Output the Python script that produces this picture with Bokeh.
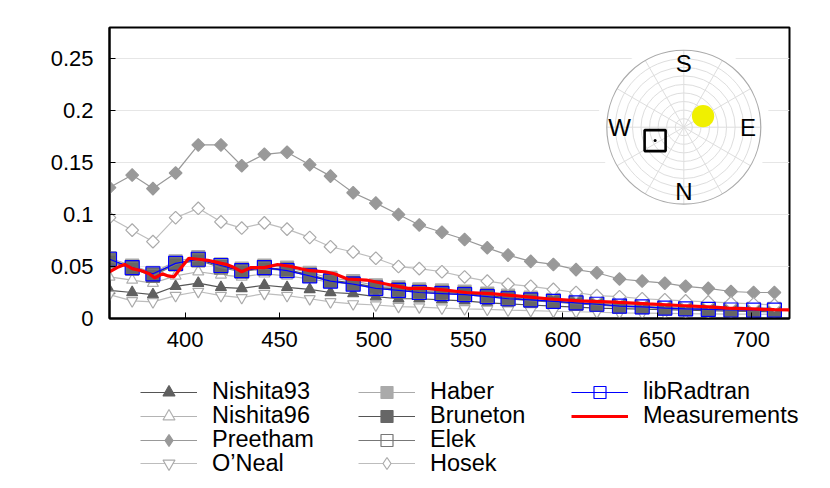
import math
from bokeh.plotting import figure
from bokeh.layouts import column
from bokeh.models import Range1d, FixedTicker, Legend, LegendItem
from bokeh.embed import file_html
from bokeh.resources import INLINE
from bokeh.core.properties import value

# ---------------- data ----------------
wl = [360, 372, 383, 395, 407, 419, 430, 442, 454, 466, 477, 489, 501, 513, 524, 536,
      548, 560, 571, 583, 595, 607, 618, 630, 642, 654, 665, 677, 689, 701, 712]

nishita93 = [0.027, 0.025, 0.023, 0.031, 0.034, 0.030, 0.029, 0.032, 0.030, 0.028, 0.025,
             0.024, 0.021, 0.019, 0.019, 0.018, 0.017, 0.015, 0.014, 0.013, 0.012, 0.011,
             0.010, 0.0095, 0.009, 0.0085, 0.008, 0.0075, 0.007, 0.0068, 0.0065]
nishita96 = [0.040, 0.037, 0.034, 0.041, 0.045, 0.042, 0.040, 0.043, 0.041, 0.038, 0.035,
             0.033, 0.031, 0.029, 0.027, 0.026, 0.024, 0.022, 0.021, 0.019, 0.018, 0.017,
             0.016, 0.015, 0.014, 0.013, 0.012, 0.0115, 0.011, 0.0105, 0.010]
preetham = [0.126, 0.138, 0.125, 0.140, 0.167, 0.167, 0.147, 0.158, 0.160, 0.148, 0.137,
            0.121, 0.111, 0.100, 0.090, 0.083, 0.076, 0.068, 0.061, 0.055, 0.052, 0.047,
            0.044, 0.038, 0.036, 0.034, 0.031, 0.029, 0.026, 0.025, 0.025]
oneal = [0.023, 0.017, 0.016, 0.022, 0.026, 0.022, 0.020, 0.024, 0.022, 0.019, 0.016,
         0.014, 0.013, 0.0115, 0.011, 0.010, 0.0093, 0.0088, 0.008, 0.0075, 0.007, 0.0065,
         0.006, 0.0055, 0.0052, 0.005, 0.0047, 0.0045, 0.0043, 0.0042, 0.004]
haber = [0.058, 0.051, 0.044, 0.055, 0.059, 0.052, 0.048, 0.051, 0.049, 0.044, 0.039,
         0.036, 0.032, 0.030, 0.028, 0.027, 0.026, 0.024, 0.022, 0.020, 0.018, 0.0165,
         0.015, 0.0135, 0.0127, 0.0115, 0.0107, 0.010, 0.0095, 0.0093, 0.0092]
bruneton = [0.056, 0.049, 0.042, 0.053, 0.057, 0.050, 0.046, 0.049, 0.047, 0.042, 0.037,
            0.034, 0.030, 0.028, 0.026, 0.025, 0.024, 0.022, 0.020, 0.018, 0.0167, 0.015,
            0.0138, 0.0122, 0.0115, 0.0103, 0.0096, 0.009, 0.0085, 0.0083, 0.0083]
elek = [0.055, 0.048, 0.041, 0.052, 0.056, 0.049, 0.045, 0.048, 0.046, 0.041, 0.036,
        0.033, 0.029, 0.027, 0.025, 0.024, 0.023, 0.021, 0.019, 0.017, 0.016, 0.014,
        0.013, 0.0115, 0.011, 0.0098, 0.009, 0.0085, 0.008, 0.0078, 0.0078]
hosek = [0.097, 0.085, 0.074, 0.097, 0.106, 0.093, 0.087, 0.092, 0.086, 0.078, 0.069,
         0.064, 0.058, 0.050, 0.048, 0.045, 0.040, 0.036, 0.033, 0.031, 0.028, 0.025,
         0.022, 0.021, 0.019, 0.018, 0.017, 0.016, 0.015, 0.014, 0.013]
libradtran = [0.057, 0.049, 0.043, 0.053, 0.057, 0.051, 0.046, 0.049, 0.046, 0.041, 0.036,
              0.033, 0.029, 0.027, 0.025, 0.024, 0.023, 0.021, 0.019, 0.018, 0.0165, 0.015,
              0.0137, 0.012, 0.0112, 0.010, 0.0093, 0.0087, 0.0082, 0.008, 0.008]

meas_wl = [360, 364, 368, 372, 377, 381, 384, 388, 391, 394, 398, 402, 407, 412, 417, 422,
           426, 430, 435, 442, 449, 456, 466, 474, 479, 486, 496, 507, 518, 528, 539, 549,
           562, 574, 592, 609, 627, 645, 662, 680, 687, 700, 712, 720]
measurements = [0.045, 0.049, 0.052, 0.048, 0.046, 0.043, 0.039, 0.043, 0.041, 0.040, 0.049,
                0.058, 0.057, 0.056, 0.054, 0.052, 0.049, 0.045, 0.049, 0.049, 0.052, 0.050,
                0.046, 0.045, 0.043, 0.038, 0.037, 0.033, 0.029, 0.029, 0.027, 0.025,
                0.024, 0.022, 0.019, 0.017, 0.0157, 0.014, 0.0125, 0.011, 0.0099, 0.0092,
                0.0085, 0.0083]

x_ticks = [400, 450, 500, 550, 600, 650, 700]
y_ticks = [0, 0.05, 0.1, 0.15, 0.2, 0.25]
y_tick_labels = ["0", "0.05", "0.1", "0.15", "0.2", "0.25"]

# sky inset (zenith in degrees, azimuth in degrees from N, clockwise)
ring_zeniths = [10, 20, 30, 40, 50, 60, 70, 80]
spoke_angles = [0, 30, 60, 90, 120, 150, 180, 210, 240, 270, 300, 330]
compass_labels = ["S", "E", "N", "W"]
compass_az = [180, 90, 0, 270]
sun_zenith, sun_az = 26, 120
meas_zenith, meas_az = 37, 295

FONT = "Liberation Sans"
FS = "22px"
TOTAL_W = 822

# ---------------- main figure ----------------
FRAME_W, FRAME_H = 680, 291
p = figure(frame_width=FRAME_W, frame_height=FRAME_H,
           x_range=Range1d(360, 720), y_range=Range1d(0, 0.28),
           output_backend="svg", toolbar_location=None,
           min_border_left=109, min_border_right=33, min_border_top=27,
           min_border_bottom=40)
p.frame_align = False
p.background_fill_color = "white"
p.border_fill_color = "white"
p.outline_line_color = "black"
p.outline_line_width = 2

p.xgrid.grid_line_color = None
p.ygrid.grid_line_color = "#e6e6e6"
p.ygrid.grid_line_width = 1

p.xaxis.ticker = FixedTicker(ticks=x_ticks)
p.yaxis.ticker = FixedTicker(ticks=y_ticks)
p.yaxis.major_label_overrides = dict(zip(y_ticks, y_tick_labels))
for ax in (p.xaxis, p.yaxis):
    ax.axis_line_color = "black"
    ax.axis_line_width = 2
    ax.major_tick_in = 6
    ax.major_tick_out = 0
    ax.major_tick_line_color = "black"
    ax.minor_tick_line_color = None
    ax.major_label_text_font = FONT
    ax.major_label_text_font_size = FS
    ax.major_label_text_color = "black"
p.yaxis.major_label_standoff = 16
p.xaxis.major_label_standoff = 13

# ---------------- sky inset ----------------
CX, CY, R = 574.3, 191.3, 77.0   # inset centre (px from frame bottom-left) and radius
p.extra_x_ranges = {"polx": Range1d(-CX / R, (FRAME_W - CX) / R)}
p.extra_y_ranges = {"poly": Range1d(-CY / R, (FRAME_H - CY) / R)}
PK = dict(x_range_name="polx", y_range_name="poly")


def sky_xy(zen, az):
    r = zen / 90.0
    a = math.radians(az)
    return r * math.sin(a), -r * math.cos(a)


p.ellipse(x=0, y=0, width=2.24, height=2.24, fill_color="white", line_color=None, **PK)
p.ellipse(x=[0] * len(ring_zeniths), y=[0] * len(ring_zeniths),
          width=[2 * z / 90 for z in ring_zeniths], height=[2 * z / 90 for z in ring_zeniths],
          fill_color=None, line_color="#dedede", line_width=1, **PK)
p.segment(x0=[0] * len(spoke_angles), y0=[0] * len(spoke_angles),
          x1=[math.cos(math.radians(a)) for a in spoke_angles],
          y1=[math.sin(math.radians(a)) for a in spoke_angles],
          line_color="#dedede", line_width=1, **PK)
p.ellipse(x=0, y=0, width=2, height=2, fill_color=None, line_color="#aaaaaa",
          line_width=1.2, **PK)
lab_xy = [sky_xy(75, a) for a in compass_az]
p.text(x=[q[0] for q in lab_xy], y=[q[1] for q in lab_xy], text=compass_labels,
       text_font=value(FONT), text_font_size="24px", text_align="center",
       text_baseline="middle", text_color="black", **PK)
sx, sy = sky_xy(sun_zenith, sun_az)
p.ellipse(x=sx, y=sy, width=0.29, height=0.29, fill_color="#f0f000", line_color=None, **PK)
mx, my = sky_xy(meas_zenith, meas_az)
p.scatter(x=[mx], y=[my], marker="square", size=21, fill_color=None, line_color="black",
          line_width=2.6, **PK)
p.scatter(x=[mx], y=[my], marker="circle", size=3, fill_color="black", line_color=None, **PK)

# ---------------- series ----------------
# name, values, line colour, marker, fill, marker line, size, angle, legend marker
series = [
    ("Nishita93", nishita93, "#555555", "triangle", "#606060", "#606060", 11, 0, "triangle"),
    ("Nishita96", nishita96, "#b4b4b4", "triangle", "white", "#b0b0b0", 11, 0, "triangle"),
    ("Preetham", preetham, "#999999", "square", "#999999", "#999999", 9, math.pi / 4, "diamond"),
    ("O\u2019Neal", oneal, "#bdbdbd", "inverted_triangle", "white", "#aaaaaa", 11, 0,
     "inverted_triangle"),
    ("Haber", haber, "#aaaaaa", "square", "#aaaaaa", "#aaaaaa", 13, 0, "square"),
    ("Bruneton", bruneton, "#555555", "square", "#666666", "#666666", 13, 0, "square"),
    ("Elek", elek, "#777777", "square", None, "#777777", 13, 0, "square"),
    ("Hosek", hosek, "#bdbdbd", "square", "white", "#aaaaaa", 9, math.pi / 4, "diamond"),
    ("libRadtran", libradtran, "#0000ff", "square", None, "#0000ff", 14, 0, "square"),
]

# legend strip: a second figure whose ranges keep its copies of the series out of view,
# so only the legend entries are visible
LEG_H = 122
lf = figure(width=TOTAL_W, height=LEG_H, x_range=Range1d(0, 1), y_range=Range1d(0, 1),
            x_axis_location=None, y_axis_location=None,
            min_border_left=0, min_border_right=0, min_border_top=0, min_border_bottom=0,
            output_backend="svg", toolbar_location=None)
lf.frame_align = False
lf.outline_line_color = None
lf.grid.grid_line_color = None
lf.background_fill_color = "white"
lf.border_fill_color = "white"

items = {}
for name, ys, lc, mk, fc, mlc, sz, ang, lmk in series:
    p.line(wl, ys, line_color=lc, line_width=1.2)
    p.scatter(wl, ys, marker=mk, size=sz, angle=ang, fill_color=fc,
              line_color=mlc, line_width=1.2)
    lr = lf.line(wl, ys, line_color=lc, line_width=1.2)
    sr = lf.scatter(wl, ys, marker=lmk, size=sz, fill_color=fc,
                    line_color=mlc, line_width=1.2)
    items[name] = LegendItem(label=name, renderers=[lr, sr])

p.line(meas_wl, measurements, line_color="#ff0000", line_width=3.2)
mr = lf.line(meas_wl, measurements, line_color="#ff0000", line_width=3.2)
items["Measurements"] = LegendItem(label="Measurements", renderers=[mr])

columns = [
    (["Nishita93", "Nishita96", "Preetham", "O\u2019Neal"], 140),
    (["Haber", "Bruneton", "Elek", "Hosek"], 358),
    (["libRadtran", "Measurements"], 571),
]
ENTRY_H = 30
FIRST_CENTER = 33.7   # px from top of legend strip to centre of first row
ROW_PITCH = 23.9
for names, xoff in columns:
    for i, n in enumerate(names):
        centre = FIRST_CENTER + i * ROW_PITCH
        lg = Legend(items=[items[n]],
                    location=(xoff, LEG_H - centre - ENTRY_H / 2),
                    orientation="vertical",
                    glyph_width=57, glyph_height=ENTRY_H, label_height=ENTRY_H,
                    label_standoff=15, spacing=0, padding=0, margin=0,
                    label_text_font=FONT, label_text_font_size="23.5px",
                    label_text_color="black",
                    background_fill_alpha=0, border_line_color=None)
        lf.add_layout(lg, "center")

layout = column(p, lf, spacing=0)
open("out.html", "w").write(file_html(layout, INLINE))
